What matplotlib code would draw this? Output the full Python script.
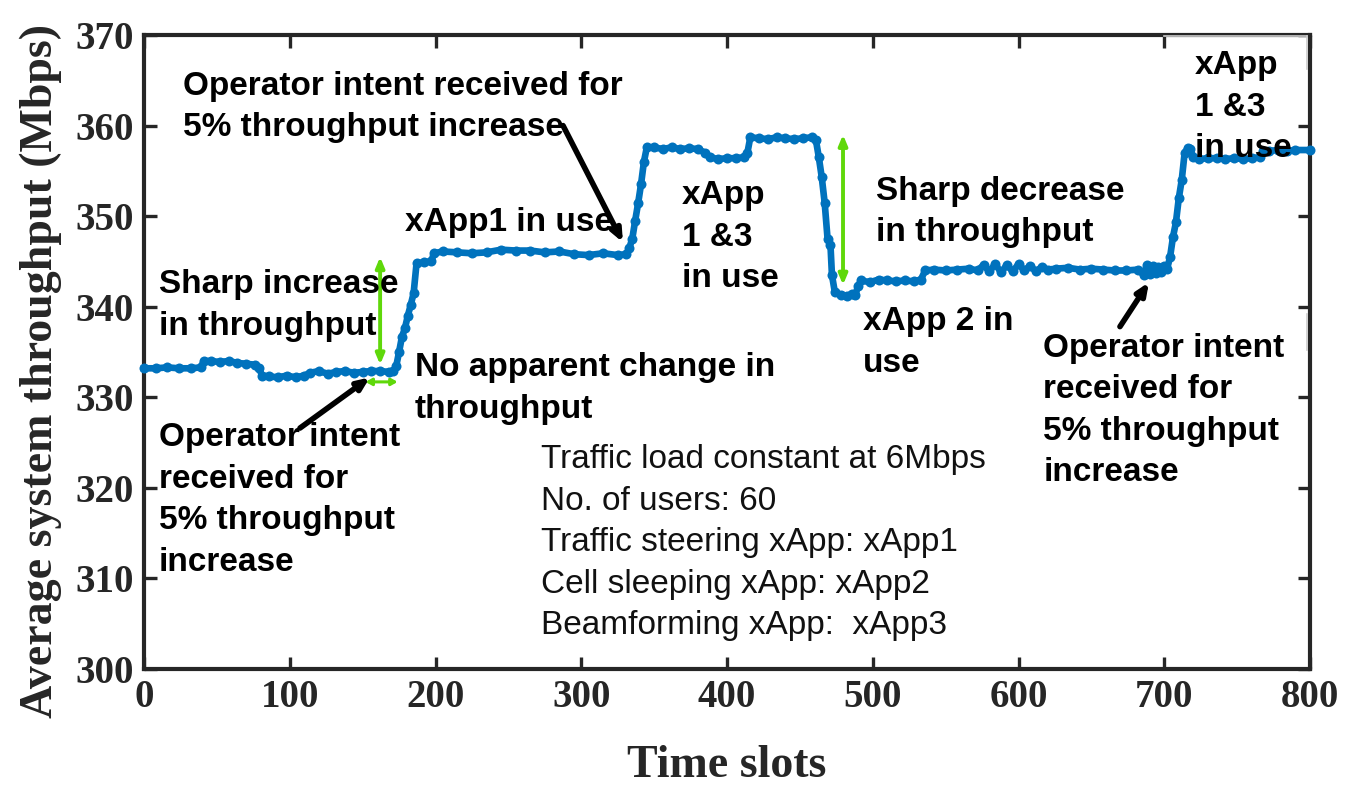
import matplotlib
matplotlib.use("Agg")
import matplotlib.pyplot as plt

# values
slots = [0, 8, 16, 24, 32, 39, 41, 46, 52, 58, 64, 70, 76, 79, 81, 86, 92, 98, 104, 110, 114,
         120, 126, 132, 138, 144, 150, 156, 162, 168, 171, 173, 175, 177, 179, 181, 183, 185, 187,
         192, 197, 199, 205, 215, 225, 235, 245, 255, 265, 275, 285, 295, 305, 315, 325, 331,
         333, 335, 337, 339, 341, 343, 345, 350, 356, 362, 368, 374, 380, 385, 388, 394, 400, 406, 412, 414,
         416, 422, 428, 434, 440, 446, 452, 458, 461, 463, 465, 467, 469, 471, 472, 474, 478, 482, 486, 488,
         490, 492, 498, 504, 510, 516, 522, 528, 533, 536, 542, 550, 558, 566, 572, 576, 580, 584, 588, 592,
         596, 600, 604, 608, 612, 616, 620, 626, 634, 642, 650, 658, 666, 674, 682, 686, 688, 690, 692, 694,
         696, 698, 700, 702, 704, 706, 708, 710, 712, 714, 716, 718, 720, 724, 730, 736, 742, 748, 754, 760,
         766, 768, 772, 778, 784, 790, 800]
throughput = [333.2, 333.2, 333.3, 333.2, 333.2, 333.3, 334.0, 334.0, 333.9, 334.0, 333.8, 333.7, 333.6, 333.2,
              332.4, 332.3, 332.2, 332.4, 332.2, 332.4, 332.7, 332.9, 332.6, 332.8, 332.9, 332.7, 332.8, 332.9,
              332.9, 332.8, 332.9, 333.4, 335.0, 336.7, 337.6, 339.0, 340.2, 341.5, 344.8,
              344.9, 345.0, 345.9, 346.1, 346.0, 345.9, 346.0, 346.3, 346.2, 346.2, 346.0, 346.1, 345.8, 345.7,
              345.9, 345.7, 345.8, 346.5, 347.5, 349.5, 351.4, 353.5, 356.0, 357.6,
              357.6, 357.4, 357.6, 357.4, 357.5, 357.4, 357.0, 356.5, 356.3, 356.4, 356.4, 356.5, 357.0,
              358.7, 358.6, 358.5, 358.7, 358.6, 358.5, 358.6, 358.7, 358.4, 356.5, 354.3, 351.5, 347.5, 346.8, 343.5,
              341.6, 341.3, 341.2, 341.4, 341.3,
              342.3, 342.9, 342.7, 343.0, 342.9, 342.8, 342.9, 342.8, 343.0, 344.0, 344.1, 344.0, 344.1, 344.2,
              344.0, 344.6, 343.9, 344.7, 343.8, 344.6,
              343.9, 344.7, 344.0, 344.5, 343.9, 344.4, 344.1, 344.2, 344.3, 344.1, 344.2, 344.1, 344.0, 344.0, 344.1,
              343.5, 344.6, 343.6, 344.5, 343.7, 344.4, 343.8, 344.5, 344.2, 345.5, 347.7, 349.3, 352.0, 354.0, 357.0,
              357.5, 357.4, 356.5, 356.3, 356.4, 356.4, 356.3, 356.4, 356.3, 356.4, 356.5, 357.2, 357.2, 357.3, 357.2,
              357.3, 357.3]

x_ticks = [0, 100, 200, 300, 400, 500, 600, 700, 800]
y_ticks = [300, 310, 320, 330, 340, 350, 360, 370]

line_color = "#0072bd"
green = "#5fd80a"
dark = "#262626"

plt.rcParams.update({
    "font.family": "Liberation Serif",
    "font.weight": "bold",
})

fig = plt.figure(figsize=(13.48, 7.87), dpi=100)
ax = fig.add_axes([144 / 1348, 1 - 669 / 787, 1166 / 1348, 634 / 787])

ax.plot(slots, throughput, color=line_color, lw=4.8, marker="o", ms=7.2, mew=0, zorder=3,
        solid_joinstyle="round", clip_on=False)

ax.set_xlim(0, 800)
ax.set_ylim(300, 370)
ax.set_xticks(x_ticks)
ax.set_yticks(y_ticks)
ax.tick_params(direction="in", length=9, width=2.4, top=True, right=True, labelsize=28,
               colors=dark, pad=7)
for side in ax.spines.values():
    side.set_linewidth(3.0)
    side.set_color(dark)
ax.set_xlabel("Time slots", fontsize=33, fontweight="bold", color=dark, labelpad=21)
ax.set_ylabel("Average system throughput (Mbps)", fontsize=33, fontweight="bold", color=dark, labelpad=10,
              y=0.47)

# black arrows
for tail, tip in [((107, 326.6), (155, 332.2)),
                  ((287.5, 360), (328.6, 347.1)),
                  ((669.6, 337.8), (689.5, 342.7))]:
    ax.annotate("", xy=tip, xytext=tail, zorder=4,
                arrowprops=dict(arrowstyle="-|>,head_length=0.7,head_width=0.3", color="black", lw=4,
                                shrinkA=0, shrinkB=0))

# green arrows
for tail, tip in [((162, 333.6), (162, 345.5)),
                  ((479.6, 342.4), (479.6, 359))]:
    ax.annotate("", xy=tip, xytext=tail, zorder=2,
                arrowprops=dict(arrowstyle="<|-|>,head_length=0.6,head_width=0.25", color=green, lw=2.8,
                                shrinkA=0, shrinkB=0))
ax.annotate("", xy=(174, 331.7), xytext=(152, 331.7), zorder=2,
            arrowprops=dict(arrowstyle="<|-|>,head_length=0.35,head_width=0.2", color=green, lw=2.2,
                            shrinkA=0, shrinkB=0))

# faint box edges left over near the right side
for xs, ys in [((700, 798), (369.9, 369.9)),
               ((798, 798), (369.9, 366.2)),
               ((798, 798), (339.2, 335.2))]:
    ax.plot(xs, ys, color="#cccccc", lw=1.2, zorder=6, clip_on=False)

notes = [
    (26.8, 362.05, "Operator intent received for\n5% throughput increase"),
    (179, 349.25, "xApp1 in use"),
    (369, 347.65, "xApp\n1 &3\nin use"),
    (502, 350.45, "Sharp decrease\nin throughput"),
    (721, 362.05, "xApp\n1 &3\nin use"),
    (10.3, 340.15, "Sharp increase\nin throughput"),
    (186, 330.95, "No apparent change in\nthroughput"),
    (10.3, 318.65, "Operator intent\nreceived for\n5% throughput\nincrease"),
    (493, 336.05, "xApp 2 in\nuse"),
    (617, 328.55, "Operator intent\nreceived for\n5% throughput\nincrease"),
]
for x, y, label in notes:
    ax.text(x, y, label, family="Liberation Sans", fontweight="bold", fontsize=24, color="black",
            va="center", ha="left", linespacing=1.44, zorder=5)

ax.text(272.4, 313.95,
        "Traffic load constant at 6Mbps\nNo. of users: 60\nTraffic steering xApp: xApp1\n"
        "Cell sleeping xApp: xApp2\nBeamforming xApp:  xApp3",
        family="Liberation Sans", fontweight="normal", fontsize=24, color="#111111",
        va="center", ha="left", linespacing=1.44, zorder=5)

fig.savefig("out.png", dpi=100, facecolor="white")
plt.close(fig)
